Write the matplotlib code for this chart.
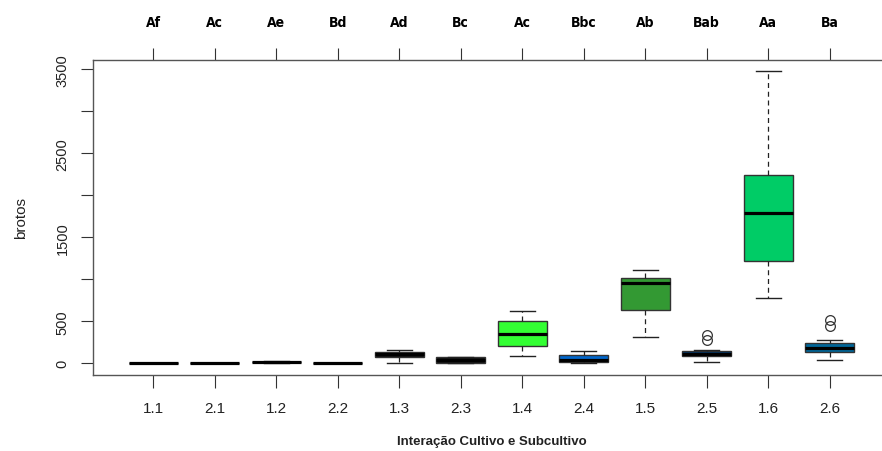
import matplotlib.pyplot as plt

plt.rcParams["font.family"] = ["Liberation Sans", "DejaVu Sans"]

# grupos (cultivo.subcultivo) e letras do teste
grupos = ["1.1", "2.1", "1.2", "2.2", "1.3", "2.3", "1.4", "2.4", "1.5", "2.5", "1.6", "2.6"]
letras = ["Af", "Ac", "Ae", "Bd", "Ad", "Bc", "Ac", "Bbc", "Ab", "Bab", "Aa", "Ba"]

# estatisticas
minimo = [0, 0, 8, 0, 8, 0, 87, 0, 313, 20, 782, 36]
q1 = [0, 0, 10, 0, 70, 5, 206, 20, 639, 87, 1222, 139]
mediana = [2, 2, 14, 2, 107, 35, 354, 40, 956, 115, 1794, 183]
q3 = [5, 5, 20, 5, 140, 70, 504, 103, 1020, 143, 2238, 246]
maximo = [5, 5, 22, 5, 158, 80, 623, 143, 1115, 158, 3476, 277]
outliers = [[], [], [], [], [], [], [], [], [], [274, 333], [], [444, 512]]

cores = ["#111111", "#111111", "#111111", "#111111", "#111111", "#111111",
         "#33FF33", "#0066CC", "#339933", "#003366", "#00CC66", "#006699"]

fig = plt.figure(figsize=(8.82, 4.52), dpi=100)
ax = fig.add_axes([93 / 882, 76 / 452, 797 / 882, 315 / 452])

stats = []
for i in range(len(grupos)):
    stats.append(dict(med=mediana[i], q1=q1[i], q3=q3[i], whislo=minimo[i],
                      whishi=maximo[i], fliers=outliers[i]))

pos = list(range(1, len(grupos) + 1))
bp = ax.bxp(stats, positions=pos, widths=0.8, patch_artist=True, showcaps=True,
            boxprops=dict(edgecolor="#333333", linewidth=1),
            medianprops=dict(color="black", linewidth=2.3, solid_capstyle="butt"),
            whiskerprops=dict(color="#222222", linewidth=0.9, linestyle=(0, (4, 3))),
            capprops=dict(color="#222222", linewidth=1),
            flierprops=dict(marker="o", markerfacecolor="none", markeredgecolor="#333333",
                            markersize=7, markeredgewidth=0.9))
for caixa, cor in zip(bp["boxes"], cores):
    caixa.set_facecolor(cor)
# hastes com metade da largura da caixa
for cap in bp["caps"]:
    x = cap.get_xdata()
    c = (x[0] + x[1]) / 2
    cap.set_xdata([c - 0.2, c + 0.2])

ax.set_xlim(0.02, 12.98)
ax.set_ylim(-139, 3609)
ax.set_yticks([0, 500, 1000, 1500, 2000, 2500, 3000, 3500])
ax.set_yticklabels(["0", "500", "", "1500", "", "2500", "", "3500"],
                   rotation=90, va="center", fontsize=10.5, color="#222222")
ax.set_xticks(pos)
ax.set_xticklabels(grupos, fontsize=11, color="#222222")
ax.tick_params(axis="x", length=9, pad=10, color="#333333")
ax.tick_params(axis="y", length=9, pad=8, color="#333333")
for s in ax.spines.values():
    s.set_color("#555555")
    s.set_linewidth(1)
ax.spines["right"].set_visible(False)

ax.set_ylabel("brotos", fontsize=11, color="#222222", labelpad=20)
ax.set_xlabel("Interação Cultivo e Subcultivo", fontsize=9.5, fontweight="bold",
              color="#222222", labelpad=14)

topo = ax.secondary_xaxis("top")
topo.set_xticks(pos)
topo.set_xticklabels(letras, fontsize=10, fontweight="bold",
                     family=["DejaVu Sans"], fontstretch="condensed")
topo.tick_params(length=9, pad=13, color="#333333")
topo.spines["top"].set_visible(False)

fig.savefig("out.png", dpi=100)
